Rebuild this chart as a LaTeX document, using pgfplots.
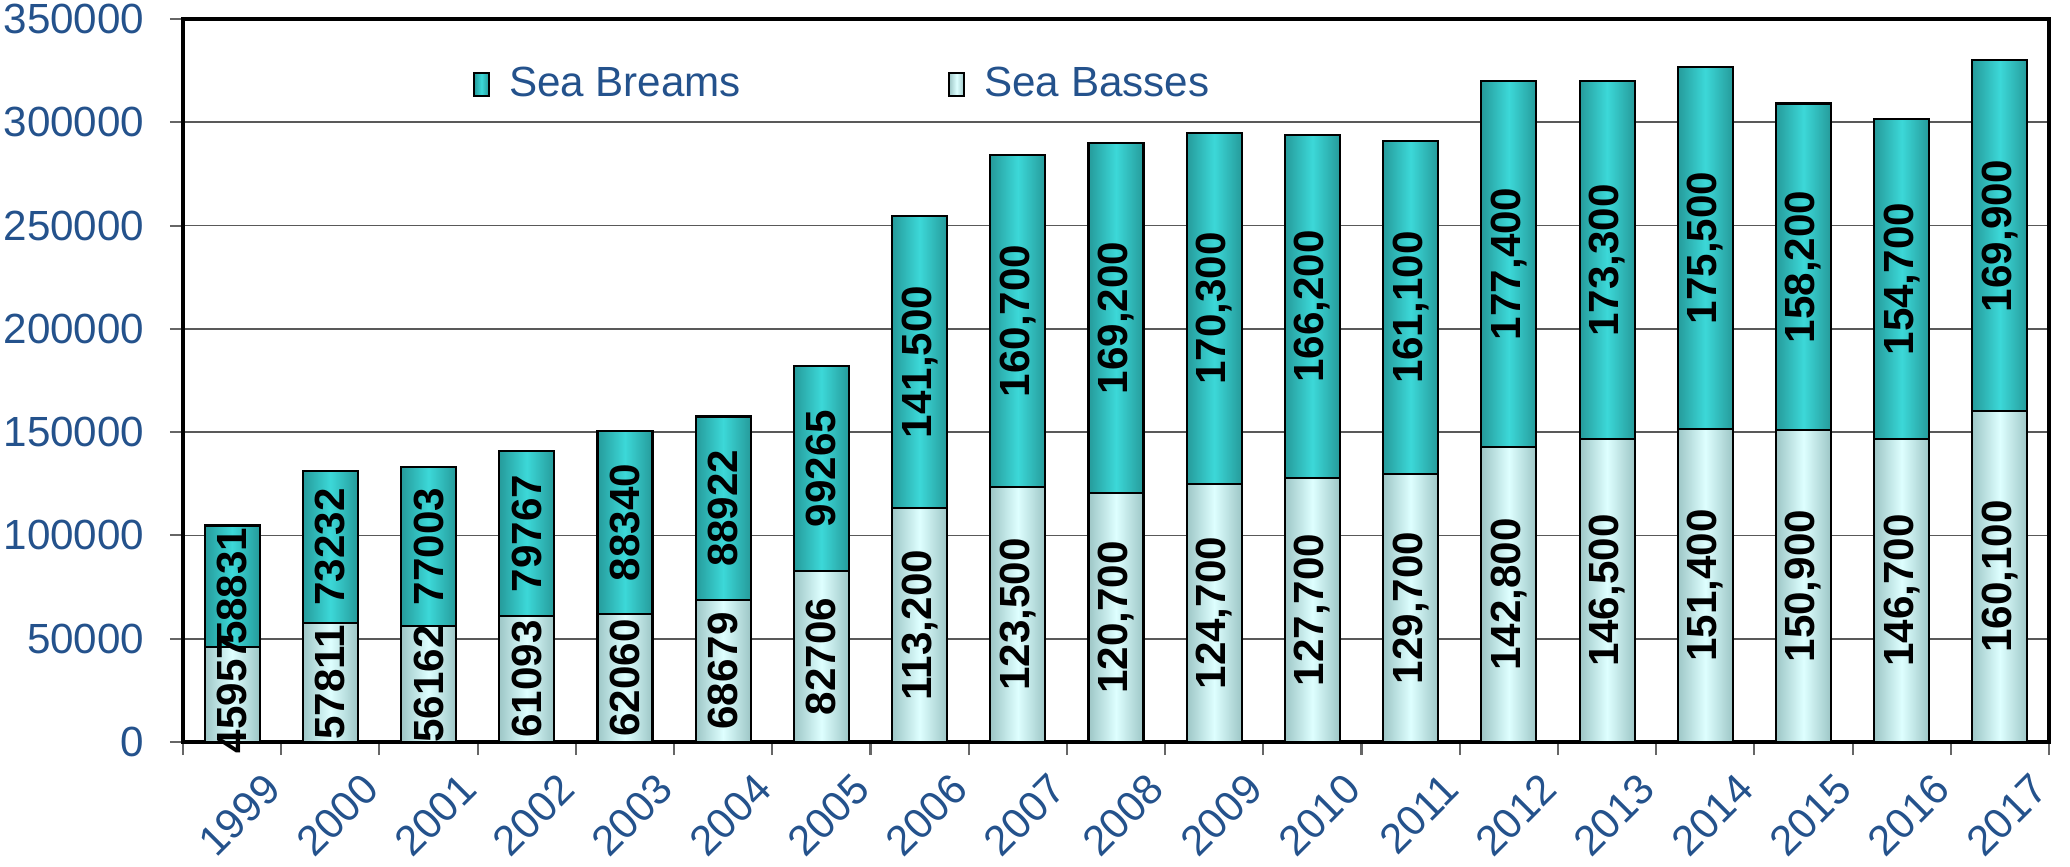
\documentclass[border=0pt]{standalone}
\usepackage{pgfplots}
\pgfplotsset{compat=1.18}
\usepackage{pgfplotstable}
\usepackage{fontspec}
\setmainfont{Liberation Sans}

\definecolor{tickblue}{RGB}{36,82,140}
\definecolor{brdark}{RGB}{22,104,104}
\definecolor{brmid}{RGB}{40,162,162}
\definecolor{brlight}{RGB}{60,216,216}
\definecolor{badark}{RGB}{108,144,144}
\definecolor{bamid}{RGB}{165,205,205}
\definecolor{balight}{RGB}{222,255,255}

% dark at both sides, bright stripe near the middle
\pgfdeclarehorizontalshading{breamshade}{100bp}{color(0bp)=(brdark); color(28bp)=(brmid); color(50bp)=(brlight); color(72bp)=(brmid); color(100bp)=(brdark!90!black)}
\pgfdeclarehorizontalshading{basseshade}{100bp}{color(0bp)=(badark); color(28bp)=(bamid); color(50bp)=(balight); color(72bp)=(bamid); color(100bp)=(badark!90!black)}

% year index, sea basses (bottom), sea breams (top), with their printed labels
\pgfplotstableread{
x basses blab breams rlab
0 45957 45957 58831 58831
1 57811 57811 73232 73232
2 56162 56162 77003 77003
3 61093 61093 79767 79767
4 62060 62060 88340 88340
5 68679 68679 88922 88922
6 82706 82706 99265 99265
7 113200 113,200 141500 141,500
8 123500 123,500 160700 160,700
9 120700 120,700 169200 169,200
10 124700 124,700 170300 170,300
11 127700 127,700 166200 166,200
12 129700 129,700 161100 161,100
13 142800 142,800 177400 177,400
14 146500 146,500 173300 173,300
15 151400 151,400 175500 175,500
16 150900 150,900 158200 158,200
17 146700 146,700 154700 154,700
18 160100 160,100 169900 169,900
}\fishdata

\begin{document}
\begin{tikzpicture}
\begin{axis}[
  scale only axis, width=18.66cm, height=7.23cm,
  ybar, bar shift=0pt, bar width=0.55cm,
  xmin=-0.5, xmax=18.5, ymin=0, ymax=350000,
  xtick={-0.5,0.5,...,18.5}, x tick label as interval,
  xticklabels={1999,2000,2001,2002,2003,2004,2005,2006,2007,2008,2009,2010,2011,2012,2013,2014,2015,2016,2017},
  major tick length=0.13cm,
  tick align=outside, tick pos=left,
  ytick distance=50000, scaled y ticks=false,
  /pgf/number format/.cd, fixed, set thousands separator={}, assume math mode=true, /pgfplots/.cd,
  yticklabel style={font=\fontsize{12}{14}\selectfont, text=tickblue, inner sep=0pt, xshift=-0.25cm},
  xticklabel style={font=\fontsize{12}{14}\selectfont, text=tickblue, rotate=45, anchor=north east, inner sep=0pt, xshift=0.1cm, yshift=-0.32cm},
  ymajorgrids, major grid style={black!65, line width=0.5pt},
  axis line style={line width=0.9pt},
  every tick/.style={black!60, line width=0.6pt},
  every node near coord/.append style={shift={(axis direction cs:0,-\rawy/2)}, rotate=90, anchor=center, font=\bfseries\fontsize{12}{14}\selectfont, text=black},
  legend columns=2,
  legend image code/.code={\draw[#1] (0cm,-0.115cm) rectangle (0.15cm,0.115cm);},
  legend style={at={(0.155,0.91)}, anchor=west, draw=none, fill=none, inner sep=0pt,
    font=\fontsize{12}{14}\selectfont, text=tickblue,
    /tikz/every odd column/.append style={column sep=0.12cm},
    /tikz/every even column/.append style={column sep=2.0cm}},
]
% one path for each bar, so that every bar gets its own shading
\pgfplotsinvokeforeach{0,...,18}{
  \addplot[forget plot, shade, shading=breamshade, draw=black, line width=0.6pt, restrict x to domain=#1:#1]
    table[x=x, y expr=\thisrow{basses}+\thisrow{breams}] {\fishdata};
  \addplot[forget plot, shade, shading=basseshade, draw=black, line width=0.6pt, restrict x to domain=#1:#1]
    table[x=x, y=basses] {\fishdata};
}
% value labels, centred in each segment
\addplot[forget plot, draw=none, fill=none, nodes near coords, point meta=explicit symbolic,
  visualization depends on={\thisrow{basses} \as \rawy}]
  table[x=x, y=basses, meta=blab] {\fishdata};
\addplot[forget plot, draw=none, fill=none, nodes near coords, point meta=explicit symbolic,
  visualization depends on={\thisrow{breams} \as \rawy}]
  table[x=x, y expr=\thisrow{basses}+\thisrow{breams}, meta=rlab] {\fishdata};
\addlegendimage{shade, shading=breamshade, draw=black, line width=0.6pt}
\addlegendentry{Sea Breams}
\addlegendimage{shade, shading=basseshade, draw=black, line width=0.6pt}
\addlegendentry{Sea Basses}
\coordinate (br) at (rel axis cs:1,0);
\coordinate (tl) at (rel axis cs:0,1);
\end{axis}
\path (br) ++(0.21cm,-1.24cm);
\path (tl) ++(-1.83cm,0.19cm);
\end{tikzpicture}
\end{document}
